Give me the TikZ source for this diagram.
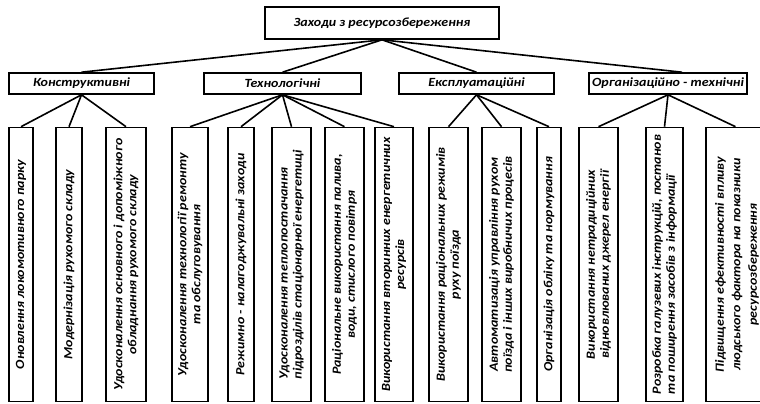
\documentclass[tikz,border=0pt]{standalone}
\usepackage{fontspec}
\setmainfont{Carlito}[FakeStretch=1.12]
\begin{document}
\begin{tikzpicture}[x=1pt,y=-1pt,
  box/.style={draw=black, line width=1.6pt, fill=white, inner sep=0pt},
  lbl/.style={font=\fontsize{12.5}{14}\selectfont\bfseries\itshape, inner sep=0pt, align=center},
  rtxt/.style={font=\fontsize{12.5}{14}\selectfont\bfseries\itshape, inner sep=0pt, rotate=90, align=center},
  link/.style={line width=1.6pt}]
\useasboundingbox (0,0) rectangle (760,404);
% top
\node[box, minimum width=234pt, minimum height=32pt] (top) at (382,23) {};
\node[lbl] (topt) at (top.center) {Заходи з ресурсозбереження};
% level 2
\node[box, minimum width=145pt, minimum height=21pt] (K) at (81.5,83.5) {};
\node[box, minimum width=157pt, minimum height=21pt] (T) at (282.5,83.5) {};
\node[box, minimum width=155pt, minimum height=21pt] (E) at (476.5,83.5) {};
\node[box, minimum width=158pt, minimum height=21pt] (O) at (668,83.5) {};
\node[lbl] (Kt) at (K.center) {Конструктивні};
\node[lbl] (Tt) at (T.center) {Технологічні};
\node[lbl] (Et) at (E.center) {Експлуатаційні};
\node[lbl] (Ot) at (O.center) {Організаційно - технічні};
% level 3 boxes
\foreach \n/\a/\b in {b1/9/33, b2/56/82, b3/106/146, b4/172/208, b5/228/254, b6/272/311, b7/325/364, b8/375/413, b9/429/468, b10/482/521, b11/537/561, b12/579/618, b13/646/683, b14/706/765}
  \node[box, minimum width=\b pt-\a pt, minimum height=274pt] (\n) at ({(\a+\b)/2},264.5) {};
\node[rtxt] (t1) at (b1.center) {Оновлення локомотивного парку};
\node[rtxt] (t2) at (b2.center) {Модернізація рухомого складу};
\node[rtxt] (t3) at (b3.center) {Удосконалення основного і допоміжного\\обладнання рухомого складу};
\node[rtxt] (t4) at (b4.center) {Удосконалення технології ремонту\\та обслуговування};
\node[rtxt] (t5) at (b5.center) {Режимно - налагоджувальні заходи};
\node[rtxt, align=left] (t6) at (b6.center) {Удосконалення теплопостачання\\підрозділів стаціонарної енергетиці};
\node[rtxt] (t7) at (b7.center) {Раціональне використання палива,\\води, стислого повітря};
\node[rtxt] (t8) at (b8.center) {Використання вторинних енергетичних\\ресурсів};
\node[rtxt] (t9) at (b9.center) {Використання раціональних режимів\\руху поїзда};
\node[rtxt] (t10) at (b10.center) {Автоматизація управління рухом\\поїзда і інших виробничих процесів};
\node[rtxt] (t11) at (b11.center) {Організація обліку та нормування};
\node[rtxt] (t12) at (b12.center) {Використання нетрадиційних\\відновлюваних джерел енергії};
\node[rtxt, align=left] (t13) at (b13.center) {Розробка галузевих інструкцій, постанов\\та поширення засобів з інформації};
\node[rtxt, font=\fontsize{12.5}{16.5}\selectfont\bfseries\itshape] (t14) at ([xshift=1.5pt]b14.center) {Підвищення ефективності впливу\\людського фактора на показники\\ресурсозбереження};
% connectors
\foreach \c in {K,T,E} \draw[link] (top.south) -- (\c.north);
\draw[link] (top.south) -- ([xshift=14pt]O.north);
\foreach \c in {b1,b2,b3} \draw[link] (K.south) -- (\c.north);
\foreach \c in {b4,b5,b6,b7,b8} \draw[link] (T.south) -- (\c.north);
\foreach \c in {b9,b10,b11} \draw[link] (E.south) -- (\c.north);
\foreach \c in {b12,b13,b14} \draw[link] (O.south) -- (\c.north);
\end{tikzpicture}
\end{document}
